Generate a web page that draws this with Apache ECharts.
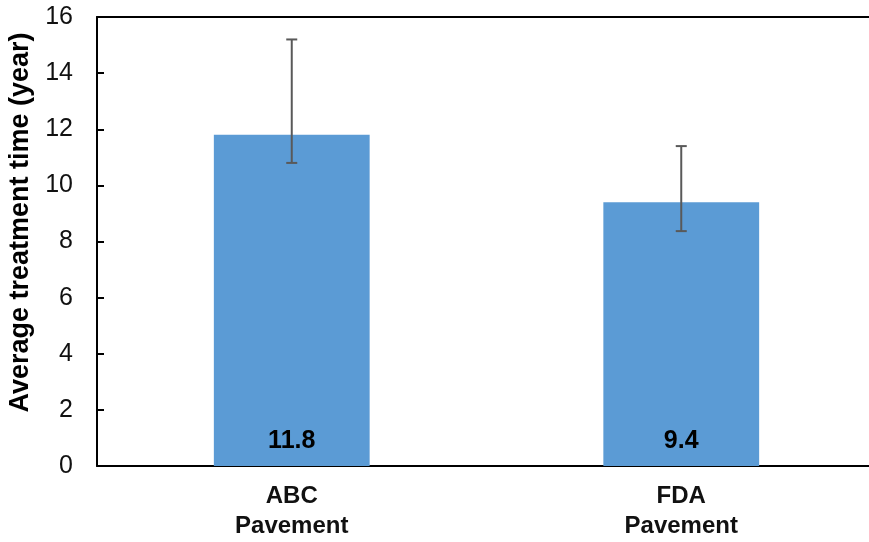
<!DOCTYPE html>
<html>
<head>
<meta charset="utf-8">
<script src="https://cdn.jsdelivr.net/npm/echarts@6/dist/echarts.min.js"></script>
<style>html,body{margin:0;padding:0;background:#fff}#c{width:869px;height:542px}</style>
</head>
<body>
<div id="c"></div>
<script>
const categories = ['ABC\nPavement', 'FDA\nPavement'];
const values = [11.8, 9.4];
const errLow = [10.8, 8.37];
const errHigh = [15.2, 11.4];
const yTicks = [0, 2, 4, 6, 8, 10, 12, 14, 16];

const FONT = '"Liberation Sans", Arial, sans-serif';
const chart = echarts.init(document.getElementById('c'));
chart.setOption({
  animation: false,
  grid: { left: 97, top: 17, width: 779, height: 449, containLabel: false, outerBoundsMode: 'none' },
  xAxis: [{
    type: 'category',
    data: categories,
    axisLine: { lineStyle: { color: '#000', width: 2 } },
    axisTick: { show: false },
    axisLabel: { color: '#111', fontFamily: FONT, fontSize: 24, fontWeight: 'bold', lineHeight: 30, margin: 15 }
  }, {
    type: 'category',
    position: 'top',
    data: categories,
    axisLine: { show: true, lineStyle: { color: '#000', width: 2 } },
    axisTick: { show: false },
    axisLabel: { show: false }
  }],
  yAxis: {
    type: 'value',
    min: yTicks[0], max: yTicks[yTicks.length - 1], interval: 2,
    name: 'Average treatment time (year)',
    nameLocation: 'middle',
    nameGap: 62,
    nameTextStyle: { color: '#000', fontFamily: FONT, fontSize: 27, fontWeight: 'bold', padding: [0, 0, 0, 38] },
    splitLine: { show: false },
    axisLine: { show: true, lineStyle: { color: '#000', width: 2 } },
    axisTick: { show: true, inside: true, length: 7, lineStyle: { color: '#000', width: 2 } },
    axisLabel: { color: '#111', fontFamily: FONT, fontSize: 25, margin: 24 }
  },
  series: [
    {
      type: 'bar',
      data: values,
      barWidth: '40%',
      itemStyle: { color: '#5B9BD5' },
      label: { show: true, position: 'insideBottom', distance: 12, color: '#000', fontFamily: FONT, fontSize: 25, fontWeight: 'bold', formatter: p => p.value.toFixed(1) }
    },
    {
      type: 'custom',
      data: categories.map((c, i) => [i, errLow[i], errHigh[i]]),
      renderItem: function (params, api) {
        const i = api.value(0);
        const lo = api.coord([i, api.value(1)]);
        const hi = api.coord([i, api.value(2)]);
        const w = 5.5;
        const style = { stroke: '#595959', lineWidth: 2 };
        return {
          type: 'group',
          children: [
            { type: 'line', shape: { x1: hi[0], y1: hi[1], x2: lo[0], y2: lo[1] }, style },
            { type: 'line', shape: { x1: hi[0] - w, y1: hi[1], x2: hi[0] + w, y2: hi[1] }, style },
            { type: 'line', shape: { x1: lo[0] - w, y1: lo[1], x2: lo[0] + w, y2: lo[1] }, style }
          ]
        };
      },
      z: 5
    }
  ]
});
</script>
</body>
</html>
